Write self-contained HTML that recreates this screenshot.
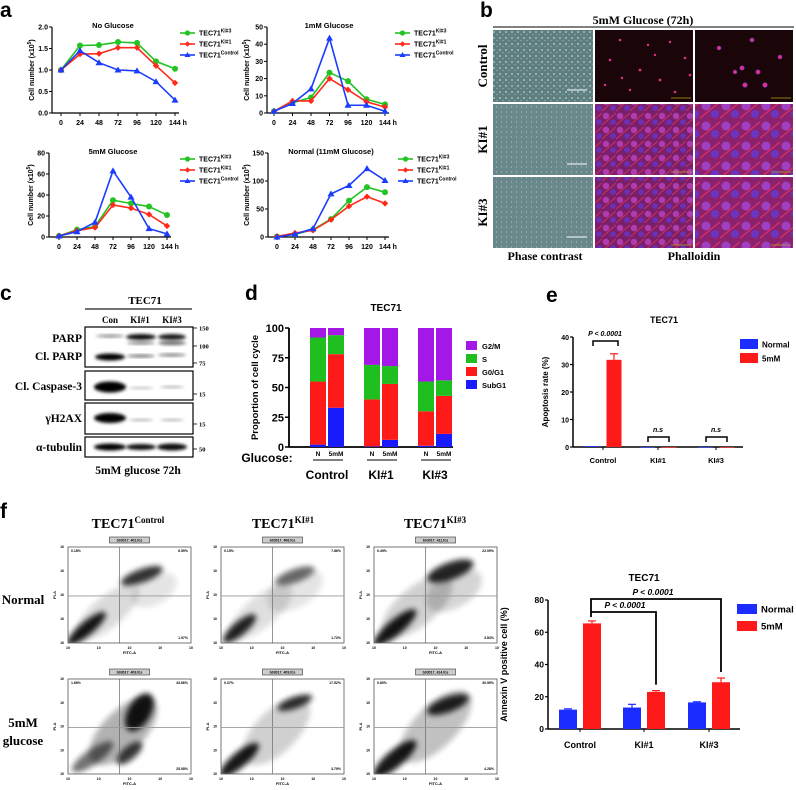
<!DOCTYPE html>
<html><head><meta charset="utf-8">
<style>
html,body{margin:0;padding:0;background:#fff;}
svg{display:block;}
.s{font-family:"Liberation Sans",Arial,sans-serif;font-weight:bold;}
.r{font-family:"Liberation Serif","Times New Roman",serif;font-weight:bold;}
</style></head>
<body>
<svg id="fig" width="796" height="790" viewBox="0 0 796 790" xmlns="http://www.w3.org/2000/svg">
<defs>
<filter id="blur1" x="-50%" y="-50%" width="200%" height="200%"><feGaussianBlur stdDeviation="1.6"/></filter>
<filter id="blur3" x="-50%" y="-50%" width="200%" height="200%"><feGaussianBlur stdDeviation="3"/></filter>
<pattern id="phase" width="6" height="6" patternUnits="userSpaceOnUse"><rect width="6" height="6" fill="#5f7e80"/><circle cx="2" cy="2" r="0.9" fill="#b9d3d3"/><circle cx="5" cy="4.5" r="0.6" fill="#9fbcbc"/></pattern>
<pattern id="phase2" width="5" height="5" patternUnits="userSpaceOnUse"><rect width="5" height="5" fill="#6a8789"/><circle cx="1.5" cy="2" r="0.6" fill="#a8c4c4"/></pattern>
<pattern id="fluo" width="14" height="14" patternUnits="userSpaceOnUse"><rect width="14" height="14" fill="#7a1f6a"/><circle cx="4" cy="4" r="3.2" fill="#b03cb0"/><circle cx="11" cy="10" r="2.8" fill="#6a30b8"/><path d="M0 13 L14 1" stroke="#d0305a" stroke-width="1"/></pattern>
<pattern id="fluo2" width="20" height="20" patternUnits="userSpaceOnUse"><rect width="20" height="20" fill="#8a2270"/><circle cx="6" cy="6" r="4.5" fill="#a040c0"/><circle cx="15" cy="14" r="4" fill="#6a35c0"/><path d="M0 18 L20 2" stroke="#e03060" stroke-width="1.2"/></pattern>
</defs>
</svg>
<script>
// ---------- Panel a data ----------
const timeLabels = ['0','24','48','72','96','120','144 h'];
const noGlu_KI3 = [1.0,1.57,1.58,1.65,1.63,1.2,1.03];
const noGlu_KI1 = [1.0,1.37,1.38,1.52,1.52,1.1,0.7];
const noGlu_Ctl = [1.0,1.45,1.17,1.0,0.98,0.73,0.3];
const g1mM_KI3 = [1,6,9,23.5,18.5,8,5];
const g1mM_KI1 = [1,7,7,20,13.5,6.5,3.5];
const g1mM_Ctl = [1,5.5,14,43.5,4.5,4.5,1];
const g5mM_KI3 = [1,7,10,35,32,29,21];
const g5mM_KI1 = [1,6,9,30.5,27.5,21.5,10.5];
const g5mM_Ctl = [1,5,14,63,38,8,3];
const gNorm_KI3 = [1,5,13,32,65,89,80];
const gNorm_KI1 = [1,7,12,31,55,72,60];
const gNorm_Ctl = [0,5,15,77,92,122,101];
const ticksNo = ['0.0','0.5','1.0','1.5','2.0'];
const ticks1mM = ['0','10','20','30','40','50'];
const ticks5mM = ['0','20','40','60','80'];
const ticksNorm = ['0','50','100','150'];
// ---------- Panel d data (segment values, bottom to top) ----------
const cycleBars = ['Control N','Control 5mM','KI#1 N','KI#1 5mM','KI#3 N','KI#3 5mM'];
const subG1 = [2,33,0.5,6,1,11];
const g0g1 = [53,45,39.5,47,29,32];
const sPhase = [37,16,29,15,25,13];
const g2m = [8,6,31,32,45,44];
const cycleTicks = ['0','25','50','75','100'];
// ---------- Panel e data ----------
const groups = ['Control','KI#1','KI#3'];
const apopNormal = [0.3,0,0];
const apop5mM = [31.7,0,0];
const apop5mMErr = [2.2,0,0];
const apopTicks = ['0','10','20','30','40'];
// ---------- Panel f bar data ----------
const annexNormal = [12,13.3,16.5];
const annexNormalErr = [0.5,2,0.4];
const annex5mM = [65.5,23,29];
const annex5mMErr = [1.5,0.8,2.6];
const annexTicks = ['0','20','40','60','80'];

const NS='http://www.w3.org/2000/svg';
const svg=document.getElementById('fig');
function el(tag,attrs,parent){const e=document.createElementNS(NS,tag);for(const k in attrs)e.setAttribute(k,attrs[k]);(parent||svg).appendChild(e);return e;}
function txt(x,y,s,size,cls,anchor,parent){const t=el('text',{x:x,y:y,'font-size':size,class:cls,'text-anchor':anchor||'middle'},parent);t.textContent=s;return t;}

// panel letters
[['a',0,17],['b',480,17],['c',0,300],['d',245,300],['e',546,302],['f',0,518]].forEach(p=>{
  const t=txt(p[1],p[2],p[0],21,'s','start');
  
  
});

// ---------- Panel a ----------
const GREEN='#22c322',RED='#ff2a1a',BLUE='#1a3cff';
function lineChart(cfg){
  const g=el('g',{});
  
  
  const sx=i=>cfg.x0+i*cfg.step;
  const sy=v=>cfg.yBot-(v/cfg.ymax)*(cfg.yBot-cfg.yTop);
  el('line',{x1:cfg.ax,y1:cfg.yTop,x2:cfg.ax,y2:cfg.yBot,stroke:'#000','stroke-width':1.2},g);
  el('line',{x1:cfg.ax,y1:cfg.yBot,x2:sx(6)+4,y2:cfg.yBot,stroke:'#000','stroke-width':1.2},g);
  cfg.ticks.forEach((tl,i)=>{
    const v=parseFloat(tl), y=sy(v);
    el('line',{x1:cfg.ax-3,y1:y,x2:cfg.ax,y2:y,stroke:'#000','stroke-width':1},g);
    txt(cfg.ax-4,y+2.5,tl,7,'s','end',g);
  });
  timeLabels.forEach((tl,i)=>{
    el('line',{x1:sx(i),y1:cfg.yBot,x2:sx(i),y2:cfg.yBot+3,stroke:'#000','stroke-width':1},g);
    txt(sx(i)+(i==6?3:0),cfg.yBot+12,tl,7,'s','middle',g);
  });
  txt(cfg.titleX,cfg.yTop+1,cfg.title,7.5,'s','middle',g);
  const yl=txt(0,0,'',7,'s','middle',g);
  yl.setAttribute('transform','translate('+cfg.ylx+','+((cfg.yTop+cfg.yBot)/2)+') rotate(-90)');
  yl.innerHTML='Cell number (x10<tspan font-size="5" dy="-3">5</tspan><tspan dy="3">)</tspan>';
  const series=[[cfg.d3,GREEN,'circle','KI#3'],[cfg.d1,RED,'diamond','KI#1'],[cfg.dc,BLUE,'tri','Control']];
  series.forEach((s,si)=>{
    const pts=s[0].map((v,i)=>sx(i)+','+sy(v)).join(' ');
    const pl=el('polyline',{points:pts,fill:'none',stroke:s[1],'stroke-width':1.6},g);
    
    
    s[0].forEach((v,i)=>{
      let m;
      if(s[2]=='circle') m=el('circle',{cx:sx(i),cy:sy(v),r:3,fill:s[1]},g);
      else if(s[2]=='diamond') m=el('path',{d:'M'+sx(i)+' '+(sy(v)-3.2)+' l3.2 3.2 l-3.2 3.2 l-3.2 -3.2z',fill:s[1]},g);
      else m=el('path',{d:'M'+sx(i)+' '+(sy(v)-3.5)+' l3.5 6 l-7 0z',fill:s[1]},g);
      
      
    });
    const ly=cfg.ly+si*11;
    el('line',{x1:cfg.lx,y1:ly,x2:cfg.lx+15,y2:ly,stroke:s[1],'stroke-width':1.6},g);
    if(s[2]=='circle') el('circle',{cx:cfg.lx+7.5,cy:ly,r:2.6,fill:s[1]},g);
    else if(s[2]=='diamond') el('path',{d:'M'+(cfg.lx+7.5)+' '+(ly-2.8)+' l2.8 2.8 l-2.8 2.8 l-2.8 -2.8z',fill:s[1]},g);
    else el('path',{d:'M'+(cfg.lx+7.5)+' '+(ly-3)+' l3 5 l-6 0z',fill:s[1]},g);
    const lt=txt(cfg.lx+19,ly+2.5,'',7,'s','start',g);
    lt.innerHTML='TEC71<tspan font-size="5" dy="-3">'+s[3]+'</tspan>';
    
    
  });
}
lineChart({name:'chart-no-glucose',ax:52,yTop:27,yBot:113,x0:61,step:19,ymax:2,ticks:ticksNo,title:'No Glucose',titleX:113,ylx:34,lx:180,ly:33,d3:noGlu_KI3,d1:noGlu_KI1,dc:noGlu_Ctl});
lineChart({name:'chart-1mm-glucose',ax:267,yTop:27,yBot:113,x0:274,step:18.5,ymax:50,ticks:ticks1mM,title:'1mM Glucose',titleX:329,ylx:249,lx:395,ly:33,d3:g1mM_KI3,d1:g1mM_KI1,dc:g1mM_Ctl});
lineChart({name:'chart-5mm-glucose',ax:49,yTop:153,yBot:237,x0:59,step:18,ymax:80,ticks:ticks5mM,title:'5mM Glucose',titleX:113,ylx:33,lx:180,ly:159,d3:g5mM_KI3,d1:g5mM_KI1,dc:g5mM_Ctl});
lineChart({name:'chart-normal-glucose',ax:268,yTop:153,yBot:237,x0:277,step:18,ymax:150,ticks:ticksNorm,title:'Normal (11mM Glucose)',titleX:331,ylx:249,lx:398,ly:159,d3:gNorm_KI3,d1:gNorm_KI1,dc:gNorm_Ctl});

// ---------- Panel b ----------
(function(){
  const g=el('g',{});
  
  
  txt(643,24,'5mM Glucose (72h)',12,'r','middle',g);
  el('line',{x1:493,y1:27,x2:794,y2:27,stroke:'#000','stroke-width':1},g);
  const cols=[493,595,695], rows=[30,104,177], w=[100,98,98], h=[72,71,71];
  const rowNames=['Control','KI#1','KI#3'];
  rows.forEach((y,ri)=>{
    cols.forEach((x,ci)=>{
      let fill;
      if(ci==0) fill= ri==0?'url(#phase)':'url(#phase2)';
      else fill= ri==0?'#1a0608':(ci==1?'url(#fluo)':'url(#fluo2)');
      const r=el('rect',{x:x,y:y,width:w[ci],height:h[ri],fill:fill},g);
      
      
      if(ci==0) el('line',{x1:x+74,y1:y+60,x2:x+94,y2:y+60,stroke:'#fff','stroke-width':1},g);
      else el('line',{x1:x+76,y1:y+68,x2:x+96,y2:y+68,stroke:'#b8a020','stroke-width':0.8},g);
    });
    const t=txt(0,0,rowNames[ri],13,'r','middle',g);
    t.setAttribute('transform','translate(487,'+(y+h[ri]/2)+') rotate(-90)');
  });
  [[620,40,1.3],[648,45,1.2],[670,42,1.2],[610,60,1.3],[640,70,1.4],[660,80,1.4],[685,58,1.3],[630,90,1.2],[675,92,1.3],[605,85,1.2],[655,55,1.2],[690,75,1.3],[622,78,1.2]].forEach(d=>el('circle',{cx:d[0],cy:d[1],r:d[2],fill:'#e0308a'},g));
  [[742,68,2.2],[758,72,2.2],[765,85,2.3],[745,85,2.3],[752,40,2],[780,57,2],[719,48,2],[735,72,1.9]].forEach(d=>el('circle',{cx:d[0],cy:d[1],r:d[2],fill:'#e0308a',stroke:'#6a30c0','stroke-width':0.6},g));
  txt(545,260,'Phase contrast',12,'r','middle',g);
  txt(694,260,'Phalloidin',12,'r','middle',g);
})();

// ---------- Panel c ----------
(function(){
  const g=el('g',{});
  
  
  txt(145,304,'TEC71',11,'r','middle',g);
  el('line',{x1:85,y1:309,x2:192,y2:309,stroke:'#444','stroke-width':1.5},g);
  [['Con',110],['KI#1',140],['KI#3',172]].forEach(l=>txt(l[1],323,l[0],9,'r','middle',g));
  const boxes=[[327,367],[371,400],[403,434],[437,457]];
  boxes.forEach(b=>el('rect',{x:85,y:b[0],width:108,height:b[1]-b[0],fill:'#fff',stroke:'#000','stroke-width':1.2},g));
  const lanes=[110,141,172];
  const bands=[
    [0,336,28,3,0.45],[1,337,30,6,0.95],[2,337,28,6,0.9],[1,343,28,3,0.5],[2,343,28,4,0.6],
    [0,357,30,7,1],[1,356,28,3,0.55],[2,355,28,3,0.5],
    [0,387,32,11,1],[1,388,24,2.5,0.25],[2,387,24,2.5,0.3],
    [0,418,32,10,1],[1,420,24,2.5,0.3],[2,420,24,2.5,0.3],
    [0,447,32,7,1],[1,447,30,6,0.95],[2,447,30,7,0.95]];
  bands.forEach(b=>el('ellipse',{cx:lanes[b[0]],cy:b[1],rx:b[2]/2,ry:b[3]/2,fill:'#000',opacity:b[4],filter:'url(#blur1)'},g));
  [['PARP',342],['Cl. PARP',360],['Cl. Caspase-3',390],['γH2AX',422],['α-tubulin',451]].forEach(l=>txt(82,l[1],l[0],11.5,'r','end',g));
  [['150',328],['100',346],['75',363],['15',394],['15',424],['50',449]].forEach(m=>{
    el('line',{x1:193,y1:m[1],x2:197,y2:m[1],stroke:'#000','stroke-width':0.8},g);
    txt(199,m[1]+2.5,m[0],6.5,'r','start',g);
  });
  txt(138,474,'5mM glucose 72h',11.5,'r','middle',g);
})();

// ---------- Panel d ----------
(function(){
  const g=el('g',{});
  
  
  const ax=289,yTop=328,yBot=447;
  const sy=v=>yBot-v/100*(yBot-yTop);
  const groupCenter=[327,381,435];
  const bx=i=>groupCenter[Math.floor(i/2)]+(i%2==0?-9:9);
  txt(386,311,'TEC71',10,'s','middle',g);
  el('line',{x1:ax,y1:yTop,x2:ax,y2:yBot,stroke:'#000','stroke-width':1.8},g);
  el('line',{x1:ax,y1:yBot,x2:453,y2:yBot,stroke:'#000','stroke-width':1.8},g);
  cycleTicks.forEach(tl=>{const y=sy(+tl);el('line',{x1:ax-4,y1:y,x2:ax,y2:y,stroke:'#000','stroke-width':1.5},g);txt(ax-5,y+4,tl,11,'s','end',g);});
  const yl=txt(0,0,'Proportion of cell cycle',9.5,'s','middle',g);
  yl.setAttribute('transform','translate(258,'+(yTop+yBot)/2+') rotate(-90)');
  const cols=['#1a1aff','#ff1a1a','#1fbf1f','#a417e6'];
  const names=['subg1','g0g1','s','g2m'];
  cycleBars.forEach((nm,i)=>{
    let base=0;
    [subG1,g0g1,sPhase,g2m].forEach((arr,k)=>{
      const v=arr[i];
      const r=el('rect',{x:bx(i)-8,y:sy(base+v),width:16,height:sy(base)-sy(base+v),fill:cols[k]},g);
      
      
      base+=v;
    });
  });
  [['G2/M','#a417e6'],['S','#1fbf1f'],['G0/G1','#ff1a1a'],['SubG1','#1a1aff']].forEach((l,i)=>{
    const y=341+i*13;
    el('rect',{x:466,y:y,width:11,height:9,fill:l[1]},g);
    const t=txt(482,y+8,l[0],7.5,'s','start',g);
    
    
  });
  txt(267,462,'Glucose:',12,'s','middle',g);
  cycleBars.forEach((nm,i)=>txt(bx(i),456,i%2==0?'N':'5mM',6.5,'s','middle',g));
  groupCenter.forEach((c,i)=>{
    el('line',{x1:c-14,y1:460,x2:c+16,y2:460,stroke:'#000','stroke-width':1},g);
    txt(c,479,groups[i],12,'s','middle',g);
  });
})();

// ---------- grouped bar helper ----------
function groupedBars(cfg){
  const g=el('g',{});
  
  
  const sy=v=>cfg.yBot-v/cfg.ymax*(cfg.yBot-cfg.yTop);
  txt(cfg.titleX,cfg.titleY,'TEC71',cfg.titleSize,'s','middle',g);
  el('line',{x1:cfg.ax,y1:cfg.yTop,x2:cfg.ax,y2:cfg.yBot,stroke:'#000','stroke-width':1.5},g);
  el('line',{x1:cfg.ax,y1:cfg.yBot,x2:cfg.axEnd,y2:cfg.yBot,stroke:'#000','stroke-width':1.5},g);
  cfg.ticks.forEach(tl=>{const y=sy(+tl);el('line',{x1:cfg.ax-3,y1:y,x2:cfg.ax,y2:y,stroke:'#000','stroke-width':1.2},g);txt(cfg.ax-4,y+3,tl,cfg.tickSize,'s','end',g);});
  const yl=txt(0,0,cfg.ylabel,cfg.ylSize,'s','middle',g);
  yl.setAttribute('transform','translate('+cfg.ylx+','+(cfg.yTop+cfg.yBot)/2+') rotate(-90)');
  groups.forEach((gn,i)=>{
    const c=cfg.centers[i];
    el('line',{x1:c,y1:cfg.yBot,x2:c,y2:cfg.yBot+3,stroke:'#000','stroke-width':1},g);
    txt(c,cfg.labY,gn,cfg.labSize,'s','middle',g);
    [[cfg.nv,cfg.ne,'#1a2cff',-cfg.off,'normal'],[cfg.mv,cfg.me,'#ff1a1a',cfg.off,'5mm']].forEach(s=>{
      const v=s[0][i], e=s[1][i], x=c+s[3];
      if(e>0){el('line',{x1:x,y1:sy(v),x2:x,y2:sy(v+e),stroke:s[2],'stroke-width':1.2},g);el('line',{x1:x-4,y1:sy(v+e),x2:x+4,y2:sy(v+e),stroke:s[2],'stroke-width':1.2},g);}
      const r=el('rect',{x:x-cfg.bw/2,y:sy(v),width:cfg.bw,height:Math.max(sy(0)-sy(v),0.6),fill:s[2]},g);
      
      
    });
  });
  [['Normal','#1a2cff'],['5mM','#ff1a1a']].forEach((l,i)=>{
    const y=cfg.legY+i*cfg.legGap;
    el('rect',{x:cfg.legX,y:y-5,width:cfg.legW,height:10,fill:l[1]},g);
    const t=txt(cfg.legX+cfg.legW+4,y+3.5,l[0],cfg.legSize,'s','start',g);
    
    
  });
  return {g:g,sy:sy};
}

// ---------- Panel e ----------
(function(){
  const r=groupedBars({name:'apoptosis-chart',ax:573,axEnd:743,yTop:337,yBot:447,ymax:40,ticks:apopTicks,titleX:664,titleY:323,titleSize:9,tickSize:7,ylabel:'Apoptosis rate (%)',ylSize:8,ylx:548,centers:[603,658,716],labY:463,labSize:7.5,nv:apopNormal,ne:[0,0,0],mv:apop5mM,me:apop5mMErr,off:11,bw:15,legX:740,legY:344,legGap:14,legW:18,legSize:8});
  const g=r.g;
  el('path',{d:'M593 346 V341 H618 V346',fill:'none',stroke:'#000','stroke-width':1.5},g);
  const p=txt(605,336,'P < 0.0001',7,'s','middle',g);p.setAttribute('font-style','italic');
  [658,716].forEach(c=>{
    el('path',{d:'M'+(c-10)+' 442 V437 H'+(c+11)+' V442',fill:'none',stroke:'#000','stroke-width':1.5},g);
    const t=txt(c,432,'n.s',7,'s','middle',g);t.setAttribute('font-style','italic');t.setAttribute('font-weight','normal');
  });
})();

// ---------- Panel f flow plots ----------
(function(){
  const g=el('g',{});
  
  
  const px=[68,221,374], pw=123;
  const titles=['Control','KI#1','KI#3'];
  const tx=[128,283,435];
  titles.forEach((t,i)=>{
    const e=txt(tx[i],528,'',14,'r','middle',g);
    e.innerHTML='TEC71<tspan font-size="9" dy="-5">'+t+'</tspan>';
  });
  txt(23,604,'Normal',13,'r','middle',g);
  txt(23,727,'5mM',13,'r','middle',g);
  txt(23,745,'glucose',13,'r','middle',g);
  const rowsY=[[547,643],[679,774]];
  const blobs=[
    [[[.15,.85,.2,.07,-40,.9],[.32,.68,.32,.16,-40,.14],[.6,.3,.18,.07,-20,.8],[.7,.45,.2,.15,-30,.1]],
     [[.15,.85,.17,.07,-40,.85],[.32,.68,.32,.16,-40,.12],[.6,.3,.17,.07,-20,.55],[.6,.45,.25,.18,-30,.1]],
     [[.17,.84,.22,.08,-40,.9],[.35,.62,.35,.2,-40,.18],[.62,.25,.2,.09,-20,.85],[.65,.45,.25,.18,-30,.16]]],
    [[[.58,.35,.17,.12,-60,.9],[.5,.78,.13,.07,-40,.75],[.2,.82,.2,.08,-35,.55],[.45,.55,.35,.22,-45,.3]],
     [[.15,.85,.2,.08,-40,.9],[.6,.25,.15,.06,-20,.8],[.45,.55,.35,.22,-45,.18]],
     [[.17,.84,.22,.09,-40,.9],[.6,.27,.18,.08,-20,.85],[.5,.5,.38,.22,-45,.24]]]];
  const pct=[[['0.18%','6.59%','1.97%'],['0.15%','7.86%','1.73%'],['0.49%','22.09%','3.83%']],[['1.66%','43.66%','25.08%'],['0.37%','17.52%','3.79%'],['0.80%','30.59%','4.28%']]];
  const files=[['b03017_402.fcs','b03017_406.fcs','b03017_411.fcs'],['b03017_403.fcs','b03017_409.fcs','b03017_414.fcs']];
  rowsY.forEach((ry,ri)=>{
    px.forEach((x,ci)=>{
      const y0=ry[0],h=ry[1]-ry[0];
      const pg=el('g',{},g);
      
      
      el('rect',{x:x+pw/2-20,y:y0-10,width:40,height:6,fill:'#ccc',stroke:'#333','stroke-width':0.6},pg);
      txt(x+pw/2,y0-5.5,files[ri][ci],3.5,'s','middle',pg).setAttribute('font-weight','normal');
      const cp=el('clipPath',{id:'cp'+ri+ci},pg);
      el('rect',{x:x,y:y0,width:pw,height:h},cp);
      const bg=el('g',{'clip-path':'url(#cp'+ri+ci+')'},pg);
      blobs[ri][ci].forEach(b=>{
        el('ellipse',{cx:0,cy:0,rx:b[2]*pw,ry:b[3]*h,fill:'#000',opacity:b[5],filter:'url(#blur3)',transform:'translate('+(x+b[0]*pw)+','+(y0+b[1]*h)+') rotate('+b[4]+')'},bg);
      });
      el('rect',{x:x,y:y0,width:pw,height:h,fill:'none',stroke:'#555','stroke-width':0.8},pg);
      el('line',{x1:x+pw*0.42,y1:y0,x2:x+pw*0.42,y2:y0+h,stroke:'#666','stroke-width':0.7},pg);
      el('line',{x1:x,y1:y0+h*0.51,x2:x+pw,y2:y0+h*0.51,stroke:'#999','stroke-width':0.9},pg);
      txt(x+3,y0+5,pct[ri][ci][0],3.5,'s','start',pg).setAttribute('font-weight','normal');
      txt(x+pw-3,y0+5,pct[ri][ci][1],3.5,'s','end',pg).setAttribute('font-weight','normal');
      txt(x+pw-3,y0+h-4,pct[ri][ci][2],3.5,'s','end',pg).setAttribute('font-weight','normal');
      for(let k=0;k<5;k++){
        txt(x+k*pw/4,y0+h+6,'10',3.5,'s','middle',pg).setAttribute('font-weight','normal');
        txt(x-4,y0+h-k*h/4+1,'10',3.5,'s','end',pg).setAttribute('font-weight','normal');
      }
      txt(x+pw/2,y0+h+11,'FITC-A',4,'s','middle',pg).setAttribute('font-weight','normal');
      const pa=txt(0,0,'PI-A',4,'s','middle',pg);pa.setAttribute('font-weight','normal');
      pa.setAttribute('transform','translate('+(x-12)+','+(y0+h/2)+') rotate(-90)');
    });
  });
})();

// ---------- Panel f bar chart ----------
(function(){
  const r=groupedBars({name:'annexin-chart',ax:548,axEnd:740,yTop:600,yBot:729,ymax:80,ticks:annexTicks,titleX:644,titleY:581,titleSize:10,tickSize:8.5,ylabel:'Annexin V positive cell (%)',ylSize:9,ylx:507,centers:[580,644,709],labY:748,labSize:9,nv:annexNormal,ne:annexNormalErr,mv:annex5mM,me:annex5mMErr,off:12,bw:18,legX:737,legY:609,legGap:17,legW:20,legSize:9.5});
  const g=r.g, sy=r.sy;
  el('path',{d:'M591 '+(sy(annex5mM[0]+annex5mMErr[0])-4)+' V599 H721 V'+(sy(annex5mM[2]+annex5mMErr[2])-6),fill:'none',stroke:'#000','stroke-width':1.8},g);
  el('path',{d:'M591 612 H656 V'+(sy(annex5mM[1]+annex5mMErr[1])-6),fill:'none',stroke:'#000','stroke-width':1.8},g);
  const p1=txt(653,595,'P < 0.0001',8.5,'s','middle',g);p1.setAttribute('font-style','italic');
  const p2=txt(625,608,'P < 0.0001',8.5,'s','middle',g);p2.setAttribute('font-style','italic');
})();
</script>
</body></html>
